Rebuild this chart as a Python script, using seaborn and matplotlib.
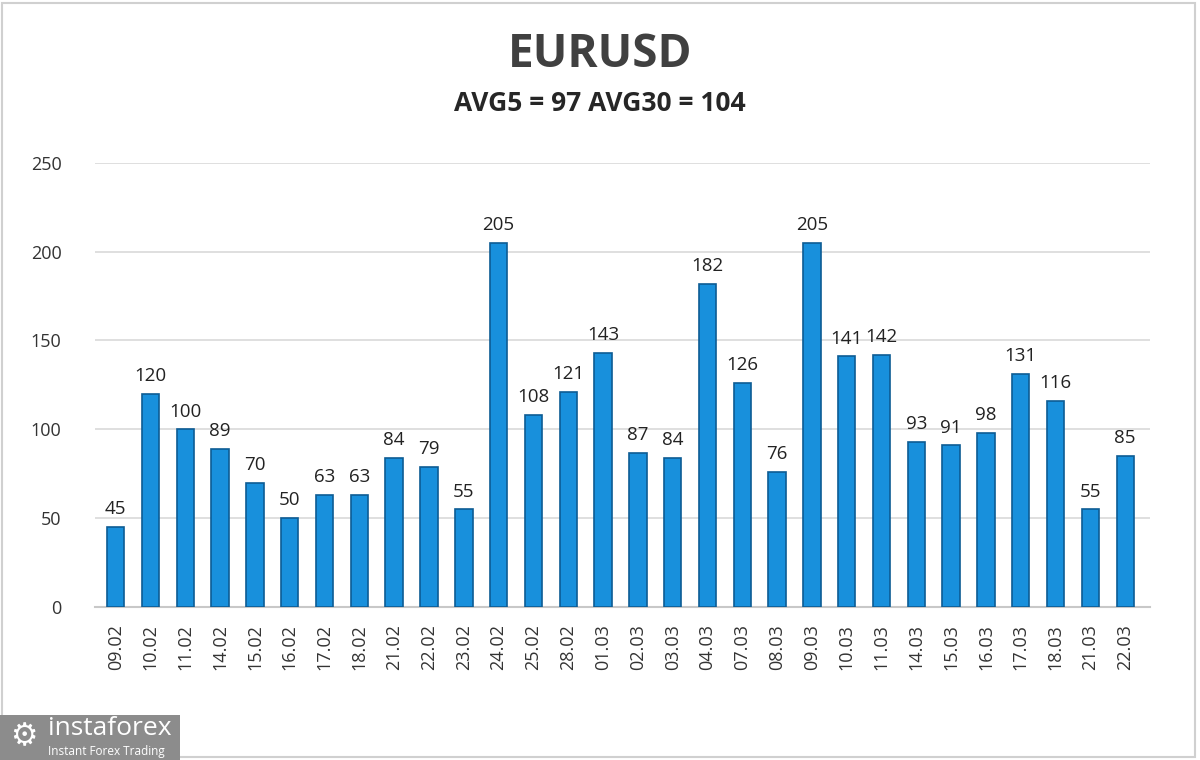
import numpy as np
import pandas as pd
import matplotlib
matplotlib.use("Agg")
import matplotlib.pyplot as plt
import matplotlib.patches as mpatches
import seaborn as sns

# chart data
dates = ['09.02', '10.02', '11.02', '14.02', '15.02', '16.02', '17.02', '18.02', '21.02', '22.02',
         '23.02', '24.02', '25.02', '28.02', '01.03', '02.03', '03.03', '04.03', '07.03', '08.03',
         '09.03', '10.03', '11.03', '14.03', '15.03', '16.03', '17.03', '18.03', '21.03', '22.03']
values = [45, 120, 100, 89, 70, 50, 63, 63, 84, 79,
          55, 205, 108, 121, 143, 87, 84, 182, 126, 76,
          205, 141, 142, 93, 91, 98, 131, 116, 55, 85]
yticks = [0, 50, 100, 150, 200, 250]
title = 'EURUSD'
subtitle = 'AVG5 = 97 AVG30 = 104'

df = pd.DataFrame({'date': dates, 'value': values})

sns.set_style('white')
plt.rcParams['font.family'] = ['Open Sans', 'DejaVu Sans']

fig = plt.figure(figsize=(12, 7.6), dpi=100)
ax = fig.add_axes([0.079, 0.201, 0.879, 0.585])

sns.barplot(data=df, x='date', y='value', color='#1890dc', saturation=1, width=0.5,
            edgecolor='#0d5c94', linewidth=1.2, ax=ax, zorder=3)

# value labels
for i, v in enumerate(values):
    ax.text(i, v + 5, str(v), ha='center', va='bottom', fontsize=13.5, color='#222222')

ax.set_ylim(0, 250)
ax.set_xlim(-0.6, 29.7)
ax.set_yticks(yticks)
ax.yaxis.grid(True, color='#d9d9d9', linewidth=1.2, zorder=0)
for s in ['top', 'right', 'left']:
    ax.spines[s].set_visible(False)
ax.spines['bottom'].set_color('#c8c8c8')
ax.spines['bottom'].set_linewidth(1.5)
ax.tick_params(axis='y', length=0, labelsize=13, labelcolor='#333333', pad=24)
ax.tick_params(axis='x', length=0, labelsize=13, labelcolor='#333333', rotation=90, pad=12)
ax.set_xlabel('')
ax.set_ylabel('')

fig.text(0.5, 0.928, title, ha='center', va='center', fontsize=33, fontweight='bold', color='#404040')
fig.text(0.5, 0.864, subtitle, ha='center', va='center', fontsize=19, fontweight='bold', color='#262626')

# outer border
fig.patches.append(mpatches.Rectangle((0.002, 0.004), 0.994, 0.992, transform=fig.transFigure,
                                      fill=False, edgecolor='#d0d0d0', linewidth=1.5))

# logo block
fig.patches.append(mpatches.Rectangle((0.0, 0.0), 0.15, 0.059, transform=fig.transFigure,
                                      facecolor='#8c8c8c', edgecolor='none'))
fig.text(0.04, 0.041, 'instaforex', ha='left', va='center', fontsize=19, color='white')
fig.text(0.04, 0.011, 'Instant Forex Trading', ha='left', va='center', fontsize=8.5, color='white')
fig.text(0.02, 0.031, '\u2699', ha='center', va='center', fontsize=22, color='white',
         family=['DejaVu Sans'])

fig.savefig('out.png', dpi=100)
